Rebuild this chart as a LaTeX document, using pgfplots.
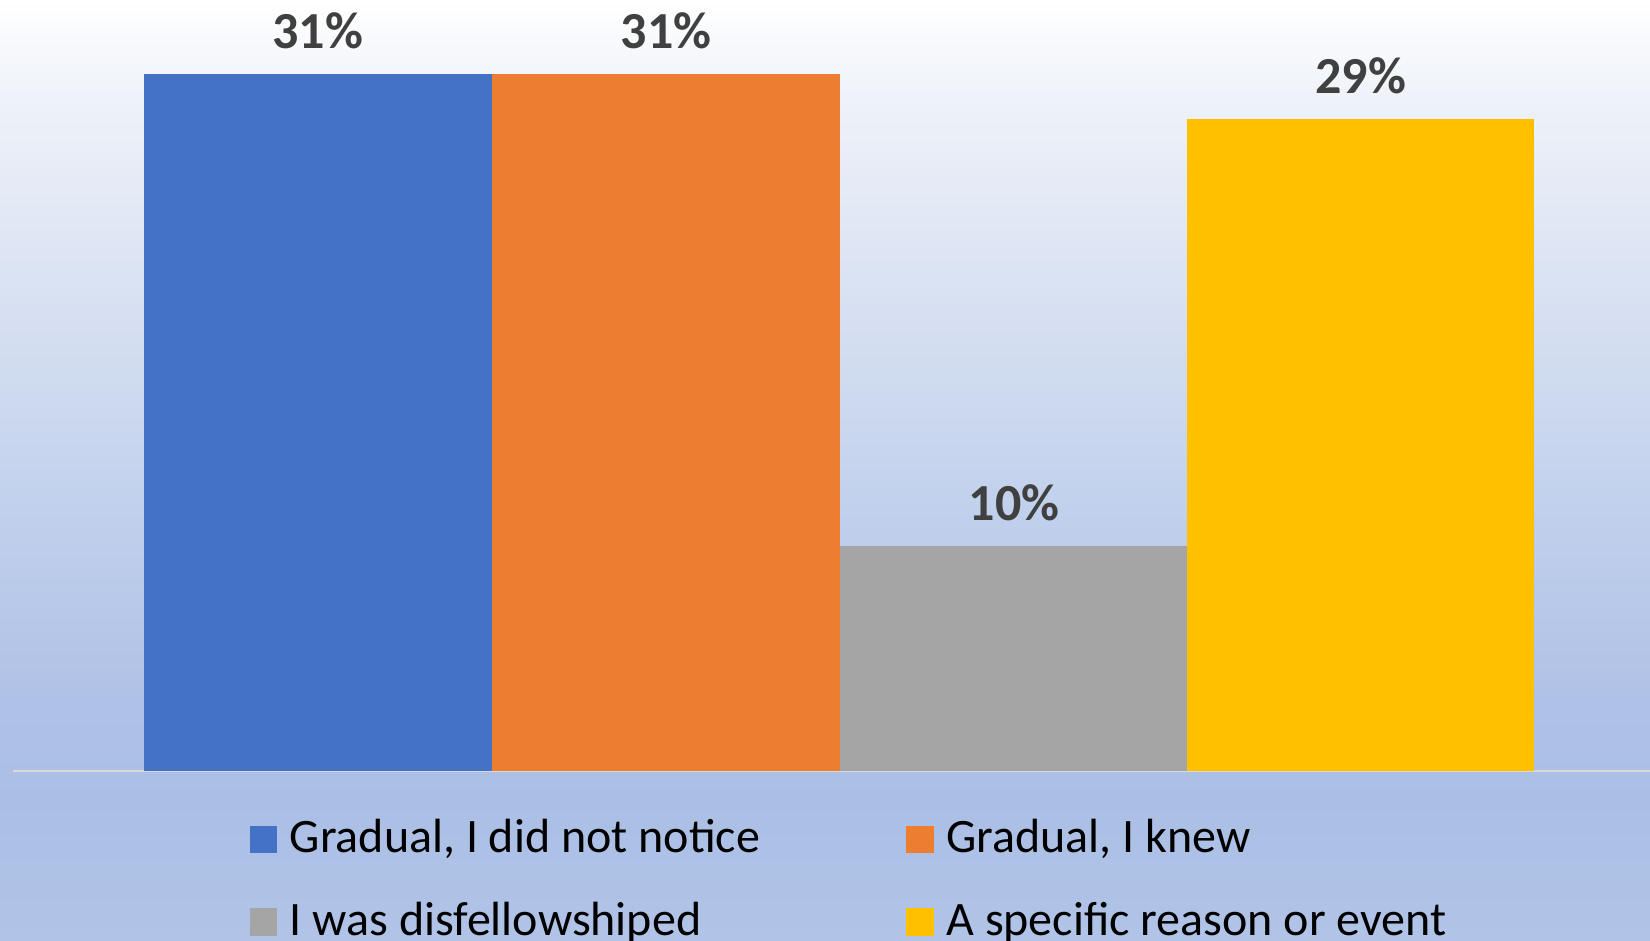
\documentclass[border=0pt]{standalone}
\usepackage{fontspec}
\setmainfont{Carlito}
\usepackage{pgfplots}
\pgfplotsset{compat=1.18}

\definecolor{cblue}{HTML}{4472C4}
\definecolor{corange}{HTML}{ED7D31}
\definecolor{cgray}{HTML}{A5A5A5}
\definecolor{cyellow}{HTML}{FFC000}
\definecolor{labtext}{HTML}{404040}
\definecolor{baseline}{HTML}{D9D9D9}
\definecolor{bg1}{HTML}{EEF2F9}
\definecolor{bg2}{HTML}{D8E1F2}
\definecolor{bg3}{HTML}{C2D1EC}
\definecolor{bg4}{HTML}{AFC1E6}
\definecolor{bg5}{HTML}{ABBFE5}
\definecolor{bg6}{HTML}{B1C4E7}

\newcommand{\ls}{\rule[-6pt]{0pt}{24pt}}

\begin{document}
\begin{tikzpicture}
% background gradient, in pieces
\shade[top color=white, bottom color=bg1] (0pt,420.5pt) rectangle (825pt,470.5pt);
\shade[top color=bg1, bottom color=bg2] (0pt,320.5pt) rectangle (825pt,420.6pt);
\shade[top color=bg2, bottom color=bg3] (0pt,220.5pt) rectangle (825pt,320.6pt);
\shade[top color=bg3, bottom color=bg4] (0pt,120.5pt) rectangle (825pt,220.6pt);
\shade[top color=bg4, bottom color=bg5] (0pt,70.5pt) rectangle (825pt,120.6pt);
\shade[top color=bg5, bottom color=bg6] (0pt,0pt) rectangle (825pt,70.6pt);

\begin{axis}[
  at={(6.3pt,85pt)}, anchor=south west,
  width=818.7pt, height=385.5pt, scale only axis,
  xmin=6.3, xmax=825, ymin=0, ymax=34.27,
  axis x line=bottom, axis y line=none,
  x axis line style={draw=baseline, line width=1pt, -},
  xtick=\empty, ytick=\empty,
  clip=false,
  ybar, bar width=173.8pt, bar shift=0pt,
  /pgf/number format/assume math mode=true,
  nodes near coords={\pgfmathprintnumber{\pgfplotspointmeta}\%},
  every node near coord/.append style={font=\bfseries\fontsize{26}{30}\selectfont,
    text=labtext, inner sep=0pt, anchor=base, yshift=12.6pt},
  legend columns=2,
  legend image code/.code={\fill[#1,draw=none] (0pt,-8.5pt) rectangle (13.7pt,5.2pt);},
  legend style={at={(axis description cs:0.1446,-0.0587)}, anchor=north west,
    draw=none, fill=none, inner sep=0pt, row sep=21.8pt, column sep=6.3pt,
    font=\fontsize{24}{28}\selectfont, nodes={inner sep=0pt}},
  legend cell align=left,
]
\addplot[fill=cblue, draw=none] coordinates {(158.9,31)};
\addplot[fill=corange, draw=none] coordinates {(333.0,31)};
\addplot[fill=cgray, draw=none] coordinates {(507.0,10)};
\addplot[fill=cyellow, draw=none] coordinates {(680.3,29)};
\legend{{\makebox[302pt][l]{\ls Gradual, I did not notice}}, {\ls Gradual, I knew},
  {\makebox[302pt][l]{\ls I was disfellowshiped}}, {\ls A specific reason or event}}
\end{axis}
\pgfresetboundingbox
\path[use as bounding box] (0pt,0pt) rectangle (825pt,470.5pt);
\end{tikzpicture}
\end{document}
